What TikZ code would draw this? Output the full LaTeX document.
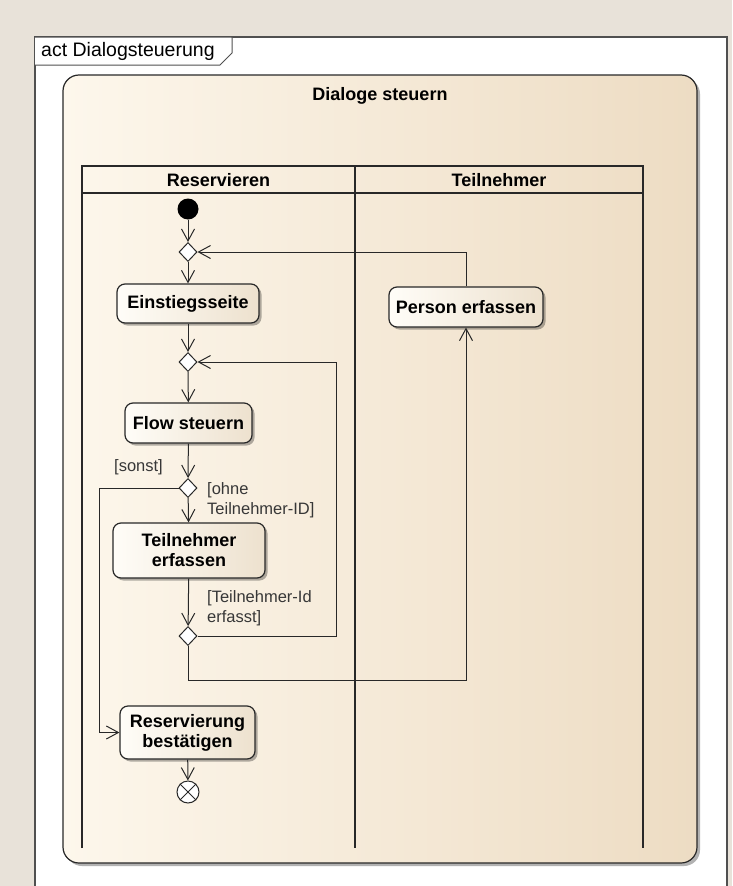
\documentclass[tikz,border=0pt]{standalone}
\usepackage{fontspec}
\setmainfont{Liberation Sans}
\usetikzlibrary{arrows.meta,shapes.geometric,shadows,calc}

\definecolor{pagebg}{RGB}{232,226,217}
\definecolor{panelL}{RGB}{253,247,236}
\definecolor{panelR}{RGB}{237,220,195}
\definecolor{boxL}{RGB}{255,253,248}
\definecolor{boxR}{RGB}{237,225,206}
\definecolor{ink}{RGB}{40,40,40}
\definecolor{frameink}{RGB}{80,80,80}
\definecolor{guardink}{RGB}{55,55,55}

\begin{document}
\begin{tikzpicture}[x=1pt,y=-1pt,
  action/.style={draw=ink, line width=1.2pt, rounded corners=8pt,
    left color=boxL, right color=boxR,
    font=\fontsize{18}{20}\selectfont\bfseries, align=center, inner sep=0pt,
    drop shadow={shadow xshift=2.5pt, shadow yshift=-2.5pt, opacity=0.3, fill=black}},
  decision/.style={shape=diamond, draw=ink, line width=1pt, fill=white,
    minimum width=18pt, minimum height=19pt, inner sep=0pt},
  cflow/.style={draw=ink, line width=1pt,
    -{Straight Barb[length=12pt,width=13pt,line width=1pt]}},
  guard/.style={font=\fontsize{16.5}{20}\selectfont, text=guardink,
    align=left, inner sep=0pt},
  lane/.style={draw=ink, line width=1.2pt},
  heading/.style={font=\fontsize{18}{20}\selectfont\bfseries, inner sep=0pt}]

\useasboundingbox (0,0) rectangle (732,886);

% page and diagram frame
\fill[pagebg] (0,0) rectangle (732,886);
\fill[white] (35,37) rectangle (727,886);
\draw[frameink, line width=1.2pt] (35,886) -- (35,37) -- (727,37) -- (727,886);
\draw[frameink, line width=1pt, fill=white] (35,37) -- (232,37) -- (232,53) -- (220,65) -- (35,65);
\node[anchor=west, inner sep=0pt, font=\fontsize{19.5}{22}\selectfont] (frametitle) at (41,51) {act Dialogsteuerung};

% activity panel with shadow
\fill[black!30, rounded corners=16pt] (66,78) rectangle (700,866);
\draw[ink, line width=1.2pt, rounded corners=16pt, left color=panelL, right color=panelR]
  (63,75) rectangle (697,863);
\node[heading] (acttitle) at (380,96) {Dialoge steuern};

% swimlanes
\draw[lane] (82,848) -- (82,166) -- (643,166) -- (643,848);
\draw[lane] (82,193) -- (643,193);
\draw[lane] (355,166) -- (355,848);
\node[heading] (laneA) at (218.5,180) {Reservieren};
\node[heading] (laneB) at (499,180) {Teilnehmer};

% nodes
\node[circle, fill=black, minimum size=21pt, inner sep=0pt] (init) at (188,209) {};
\node[decision] (d1) at (188,252) {};
\node[action, minimum width=142pt, minimum height=39pt] (einst) at (188,303.5) {Einstiegsseite};
\node[decision] (d2) at (188,362) {};
\node[action, minimum width=127pt, minimum height=40pt] (flowst) at (188.5,423) {Flow steuern};
\node[decision] (d3) at (188,488) {};
\node[action, minimum width=152pt, minimum height=55pt] (teil) at (189,550.5) {Teilnehmer\\erfassen};
\node[decision] (d4) at (188,636) {};
\node[action, minimum width=135pt, minimum height=53pt] (resv) at (187.5,732.5) {Reservierung\\bestätigen};
\node[circle, draw=ink, line width=1pt, fill=white, minimum size=22pt, inner sep=0pt] (ff) at (188,792) {};
\draw[ink, line width=1pt] (ff.45) -- (ff.225) (ff.135) -- (ff.315);
\node[action, minimum width=154pt, minimum height=40pt] (person) at (466,307) {Person erfassen};

% routing points
\coordinate (rx) at (336,0);
\coordinate (ly) at (0,680);
\coordinate (lx) at (99,0);

% control flows
\draw[cflow] (init) -- (d1);
\draw[cflow] (d1) -- (einst);
\draw[cflow] (einst) -- (d2);
\draw[cflow] (d2) -- (flowst);
\draw[cflow] (flowst) -- (d3);
\draw[cflow] (d3) -- (teil);
\draw[cflow] (teil) -- (d4);
\draw[cflow] (d4.east) -- (d4.east -| rx) -- (d2.east -| rx) -- (d2.east);
\draw[cflow] (d4.south) -- (d4.south |- ly) -- (person.south |- ly) -- (person.south);
\draw[cflow] (person.north) -- (person.north |- d1.east) -- (d1.east);
\draw[cflow] (d3.west) -- (d3.west -| lx) -- (resv.west -| lx) -- (resv.west);
\draw[cflow] (resv) -- (ff);

% guards
\node[guard, anchor=east] (gsonst) at (163,467) {[sonst]};
\node[guard, anchor=west] (gohne) at (207,500) {[ohne\\Teilnehmer-ID]};
\node[guard, anchor=west] (gerf) at (207,608) {[Teilnehmer-Id\\erfasst]};

\end{tikzpicture}
\end{document}
